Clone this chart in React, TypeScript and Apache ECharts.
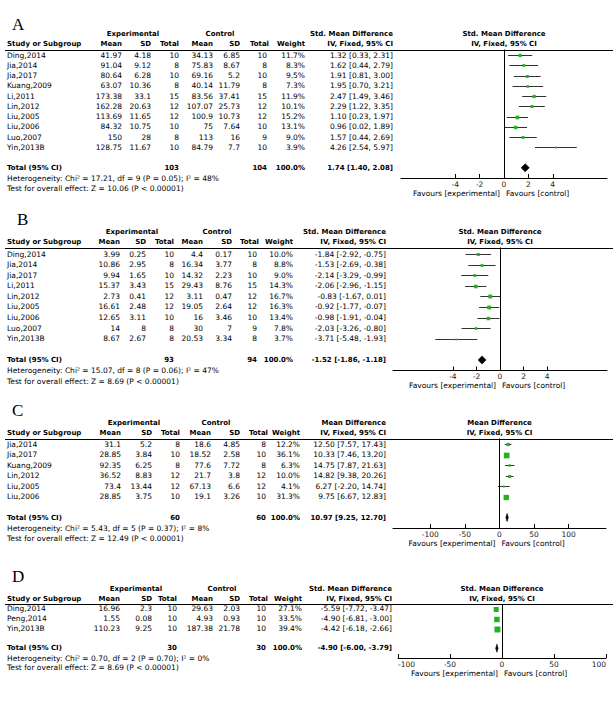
import React, { useEffect, useRef } from 'react';
import * as echarts from 'echarts';

// ---------- Panel A ----------
const A_study = ['Ding,2014', 'Jia,2014', 'Jia,2017', 'Kuang,2009', 'Li,2011', 'Lin,2012', 'Liu,2005', 'Liu,2006', 'Luo,2007', 'Yin,2013B'];
const A_expMean = [41.97, 91.04, 80.64, 63.07, 173.38, 162.28, 113.69, 84.32, 150, 128.75];
const A_expSD = [4.18, 9.12, 6.28, 10.36, 33.1, 20.63, 11.65, 10.75, 28, 11.67];
const A_expN = [10, 8, 10, 8, 15, 12, 12, 10, 8, 10];
const A_ctlMean = [34.13, 75.83, 69.16, 40.14, 83.56, 107.07, 100.9, 75, 113, 84.79];
const A_ctlSD = [6.85, 8.67, 5.2, 11.79, 37.41, 25.73, 10.73, 7.64, 16, 7.7];
const A_ctlN = [10, 8, 10, 8, 15, 12, 12, 10, 9, 10];
const A_weight = [11.7, 8.3, 9.5, 7.3, 11.9, 10.1, 15.2, 13.1, 9.0, 3.9];
const A_est = [1.32, 1.62, 1.91, 1.95, 2.47, 2.29, 1.10, 0.96, 1.57, 4.26];
const A_lo = [0.33, 0.44, 0.81, 0.70, 1.49, 1.22, 0.23, 0.02, 0.44, 2.54];
const A_hi = [2.31, 2.79, 3.00, 3.21, 3.46, 3.35, 1.97, 1.89, 2.69, 5.97];
const A_total = { expN: 103, ctlN: 104, est: 1.74, lo: 1.40, hi: 2.08 };
const A_het = 'Heterogeneity: Chi² = 17.21, df = 9 (P = 0.05); I² = 48%';
const A_test = 'Test for overall effect: Z = 10.06 (P < 0.00001)';
const A_ticks = [-4, -2, 0, 2, 4];

// ---------- Panel B ----------
const B_study = ['Ding,2014', 'Jia,2014', 'Jia,2017', 'Li,2011', 'Lin,2012', 'Liu,2005', 'Liu,2006', 'Luo,2007', 'Yin,2013B'];
const B_expMean = [3.99, 10.86, 9.94, 15.37, 2.73, 16.61, 12.65, 14, 8.67];
const B_expSD = [0.25, 2.95, 1.65, 3.43, 0.41, 2.48, 3.11, 8, 2.67];
const B_expN = [10, 8, 10, 15, 12, 12, 10, 8, 8];
const B_ctlMean = [4.4, 16.34, 14.32, 29.43, 3.11, 19.05, 16, 30, 20.53];
const B_ctlSD = [0.17, 3.77, 2.23, 8.76, 0.47, 2.64, 3.46, 7, 3.34];
const B_ctlN = [10, 8, 10, 15, 12, 12, 10, 9, 8];
const B_weight = [10.0, 8.8, 9.0, 14.3, 16.7, 16.3, 13.4, 7.8, 3.7];
const B_est = [-1.84, -1.53, -2.14, -2.06, -0.83, -0.92, -0.98, -2.03, -3.71];
const B_lo = [-2.92, -2.69, -3.29, -2.96, -1.67, -1.77, -1.91, -3.26, -5.48];
const B_hi = [-0.75, -0.38, -0.99, -1.15, 0.01, -0.07, -0.04, -0.80, -1.93];
const B_total = { expN: 93, ctlN: 94, est: -1.52, lo: -1.86, hi: -1.18 };
const B_het = 'Heterogeneity: Chi² = 15.07, df = 8 (P = 0.06); I² = 47%';
const B_test = 'Test for overall effect: Z = 8.69 (P < 0.00001)';
const B_ticks = [-4, -2, 0, 2, 4];

// ---------- Panel C ----------
const C_study = ['Jia,2014', 'Jia,2017', 'Kuang,2009', 'Lin,2012', 'Liu,2005', 'Liu,2006'];
const C_expMean = [31.1, 28.85, 92.35, 36.52, 73.4, 28.85];
const C_expSD = [5.2, 3.84, 6.25, 8.83, 13.44, 3.75];
const C_expN = [8, 10, 8, 12, 12, 10];
const C_ctlMean = [18.6, 18.52, 77.6, 21.7, 67.13, 19.1];
const C_ctlSD = [4.85, 2.58, 7.72, 3.8, 6.6, 3.26];
const C_ctlN = [8, 10, 8, 12, 12, 10];
const C_weight = [12.2, 36.1, 6.3, 10.0, 4.1, 31.3];
const C_est = [12.50, 10.33, 14.75, 14.82, 6.27, 9.75];
const C_lo = [7.57, 7.46, 7.87, 9.38, -2.20, 6.67];
const C_hi = [17.43, 13.20, 21.63, 20.26, 14.74, 12.83];
const C_total = { expN: 60, ctlN: 60, est: 10.97, lo: 9.25, hi: 12.70 };
const C_het = 'Heterogeneity: Chi² = 5.43, df = 5 (P = 0.37); I² = 8%';
const C_test = 'Test for overall effect: Z = 12.49 (P < 0.00001)';
const C_ticks = [-100, -50, 0, 50, 100];

// ---------- Panel D ----------
const D_study = ['Ding,2014', 'Peng,2014', 'Yin,2013B'];
const D_expMean = [16.96, 1.55, 110.23];
const D_expSD = [2.3, 0.08, 9.25];
const D_expN = [10, 10, 10];
const D_ctlMean = [29.63, 4.93, 187.38];
const D_ctlSD = [2.03, 0.93, 21.78];
const D_ctlN = [10, 10, 10];
const D_weight = [27.1, 33.5, 39.4];
const D_est = [-5.59, -4.90, -4.42];
const D_lo = [-7.72, -6.81, -6.18];
const D_hi = [-3.47, -3.00, -2.66];
const D_total = { expN: 30, ctlN: 30, est: -4.90, lo: -6.00, hi: -3.79 };
const D_het = 'Heterogeneity: Chi² = 0.70, df = 2 (P = 0.70); I² = 0%';
const D_test = 'Test for overall effect: Z = 8.69 (P < 0.00001)';
const D_ticks = [-100, -50, 0, 50, 100];

const PANELS = [
  { letter: 'A', effect: 'Std. Mean Difference', study: A_study, expMean: A_expMean, expSD: A_expSD, expN: A_expN, ctlMean: A_ctlMean, ctlSD: A_ctlSD, ctlN: A_ctlN, weight: A_weight, est: A_est, lo: A_lo, hi: A_hi, total: A_total, het: A_het, test: A_test, ticks: A_ticks },
  { letter: 'B', effect: 'Std. Mean Difference', study: B_study, expMean: B_expMean, expSD: B_expSD, expN: B_expN, ctlMean: B_ctlMean, ctlSD: B_ctlSD, ctlN: B_ctlN, weight: B_weight, est: B_est, lo: B_lo, hi: B_hi, total: B_total, het: B_het, test: B_test, ticks: B_ticks },
  { letter: 'C', effect: 'Mean Difference', study: C_study, expMean: C_expMean, expSD: C_expSD, expN: C_expN, ctlMean: C_ctlMean, ctlSD: C_ctlSD, ctlN: C_ctlN, weight: C_weight, est: C_est, lo: C_lo, hi: C_hi, total: C_total, het: C_het, test: C_test, ticks: C_ticks },
  { letter: 'D', effect: 'Std. Mean Difference', study: D_study, expMean: D_expMean, expSD: D_expSD, expN: D_expN, ctlMean: D_ctlMean, ctlSD: D_ctlSD, ctlN: D_ctlN, weight: D_weight, est: D_est, lo: D_lo, hi: D_hi, total: D_total, het: D_het, test: D_test, ticks: D_ticks },
];

// ---------- Layout (positions only) ----------
const LAYOUT = [
  { letterX: 12, letterY: 24, ruleY: 49.5, axisY: 178, yMin: -0.55, gridL: 401, gridR: 607, xMax: 8.45, alignEnds: false,
    c: { study: 7, expMean: 122, expSD: 151, expN: 179, ctlMean: 213, ctlSD: 240, ctlN: 267, weight: 305, effect: 393 }, expC: 133, ctlC: 220 },
  { letterX: 17, letterY: 219, ruleY: 247.5, axisY: 370.5, yMin: -0.62, gridL: 393, gridR: 607, xMax: 9.07, alignEnds: false,
    c: { study: 7, expMean: 120, expSD: 146, expN: 174, ctlMean: 203, ctlSD: 232, ctlN: 257, weight: 293, effect: 386 }, expC: 132, ctlC: 217 },
  { letterX: 12, letterY: 410, ruleY: 438.5, axisY: 528, yMin: -0.55, gridL: 393, gridR: 606, xMax: 154, alignEnds: false,
    c: { study: 7, expMean: 121, expSD: 152, expN: 180, ctlMean: 211, ctlSD: 240, ctlN: 266, weight: 300, effect: 386 }, expC: 134, ctlC: 216 },
  { letterX: 12, letterY: 576, ruleY: 604, axisY: 658, yMin: -0.5, gridL: 398, gridR: 606, xMax: 100, alignEnds: true,
    c: { study: 7, expMean: 120, expSD: 152, expN: 177, ctlMean: 213, ctlSD: 240, ctlN: 266, weight: 302, effect: 392 }, expC: 136, ctlC: 222 },
];

const FONT = 'DejaVu Sans';
const TXT = '#000';
const GREEN = '#22b322';

const fmtCI = (e: number, l: number, h: number) => `${e.toFixed(2)} [${l.toFixed(2)}, ${h.toFixed(2)}]`;

function txt(text: string, x: number, y: number, align: string, bold = false, size?: number, family?: string) {
  return {
    type: 'text',
    x,
    y,
    silent: true,
    style: {
      text,
      align,
      verticalAlign: 'middle',
      fontSize: size ?? (bold ? 7 : 7.5),
      fontWeight: bold ? 'bold' : 'normal',
      fontFamily: family ?? FONT,
      fill: TXT,
    },
  };
}

function renderStudy(params: any, api: any) {
  const y = api.value(1);
  const p = api.coord([api.value(0), y]);
  const l = api.coord([api.value(2), y]);
  const h = api.coord([api.value(3), y]);
  const s = 0.95 * Math.sqrt(api.value(4));
  const yy = Math.round(p[1]) + 0.5;
  return {
    type: 'group',
    children: [
      { type: 'line', shape: { x1: l[0], y1: yy, x2: h[0], y2: yy }, style: { stroke: '#333', lineWidth: 1 } },
      { type: 'rect', shape: { x: p[0] - s / 2, y: yy - s / 2, width: s, height: s }, style: { fill: GREEN } },
    ],
  };
}

function renderDiamond(params: any, api: any) {
  const y = api.value(1);
  const p = api.coord([api.value(0), y]);
  const l = api.coord([api.value(2), y]);
  const h = api.coord([api.value(3), y]);
  const hh = 4;
  return {
    type: 'polygon',
    shape: { points: [[l[0], p[1]], [p[0], p[1] - hh], [h[0], p[1]], [p[0], p[1] + hh]] },
    style: { fill: '#000', stroke: '#000', lineWidth: 0.6 },
  };
}

function buildOption() {
  const grid: any[] = [];
  const xAxis: any[] = [];
  const yAxis: any[] = [];
  const series: any[] = [];
  const graphic: any[] = [];

  PANELS.forEach((p, k) => {
    const L = LAYOUT[k];
    const n = p.study.length;
    const totalIdx = n + 1;
    const yMax = n + 2;
    const step = (L.axisY - L.ruleY) / (yMax - L.yMin);
    const rowY = (i: number) => L.ruleY + (i - L.yMin) * step;
    const zeroX = L.gridL + (L.gridR - L.gridL) / 2;

    grid.push({ left: L.gridL, top: L.ruleY, width: L.gridR - L.gridL, height: L.axisY - L.ruleY });
    xAxis.push({
      gridIndex: k,
      type: 'value',
      min: -L.xMax,
      max: L.xMax,
      position: 'bottom',
      splitLine: { show: false },
      axisLine: { show: true, onZero: false, lineStyle: { color: '#000', width: 1 } },
      axisTick: { show: true, inside: true, length: 4, customValues: p.ticks, lineStyle: { color: '#000' } },
      axisLabel: {
        show: true,
        customValues: p.ticks,
        fontSize: 7.5,
        fontFamily: FONT,
        color: '#222',
        margin: 2,
        alignMinLabel: L.alignEnds ? 'left' : 'center',
        alignMaxLabel: L.alignEnds ? 'right' : 'center',
      },
    });
    yAxis.push({ gridIndex: k, type: 'value', inverse: true, min: L.yMin, max: yMax, show: false });

    series.push({
      type: 'custom',
      xAxisIndex: k,
      yAxisIndex: k,
      clip: false,
      renderItem: renderStudy,
      data: p.est.map((e, i) => [e, i, p.lo[i], p.hi[i], p.weight[i]]),
      markLine: {
        silent: true,
        symbol: 'none',
        label: { show: false },
        lineStyle: { color: '#000', width: 1, type: 'solid' },
        data: [{ xAxis: 0 }],
      },
      z: 3,
    });
    series.push({
      type: 'custom',
      xAxisIndex: k,
      yAxisIndex: k,
      clip: false,
      renderItem: renderDiamond,
      data: [[p.total.est, totalIdx, p.total.lo, p.total.hi]],
      z: 4,
    });

    // panel letter
    graphic.push(txt(p.letter, L.letterX, L.letterY, 'left', false, 17, "'Liberation Serif', 'DejaVu Serif', serif"));

    // headers
    const h1 = L.ruleY - 15.5;
    const h2 = L.ruleY - 5.5;
    graphic.push(txt('Experimental', L.expC, h1, 'center', true));
    graphic.push(txt('Control', L.ctlC, h1, 'center', true));
    graphic.push(txt(p.effect, L.c.effect, h1, 'right', true));
    graphic.push(txt(p.effect, zeroX, h1, 'center', true));
    graphic.push(txt('Study or Subgroup', L.c.study, h2, 'left', true));
    graphic.push(txt('Mean', L.c.expMean, h2, 'right', true));
    graphic.push(txt('SD', L.c.expSD, h2, 'right', true));
    graphic.push(txt('Total', L.c.expN, h2, 'right', true));
    graphic.push(txt('Mean', L.c.ctlMean, h2, 'right', true));
    graphic.push(txt('SD', L.c.ctlSD, h2, 'right', true));
    graphic.push(txt('Total', L.c.ctlN + 2, h2, 'right', true));
    graphic.push(txt('Weight', L.c.weight, h2, 'right', true));
    graphic.push(txt('IV, Fixed, 95% CI', L.c.effect, h2, 'right', true));
    graphic.push(txt('IV, Fixed, 95% CI', zeroX, h2, 'center', true));

    // rule
    graphic.push({ type: 'line', silent: true, shape: { x1: 5, y1: Math.round(L.ruleY) + 0.5, x2: 613, y2: Math.round(L.ruleY) + 0.5 }, style: { stroke: '#000', lineWidth: 1 } });

    // study rows
    p.study.forEach((s, i) => {
      const y = rowY(i);
      graphic.push(txt(s, L.c.study, y, 'left'));
      graphic.push(txt(String(p.expMean[i]), L.c.expMean, y, 'right'));
      graphic.push(txt(String(p.expSD[i]), L.c.expSD, y, 'right'));
      graphic.push(txt(String(p.expN[i]), L.c.expN, y, 'right'));
      graphic.push(txt(String(p.ctlMean[i]), L.c.ctlMean, y, 'right'));
      graphic.push(txt(String(p.ctlSD[i]), L.c.ctlSD, y, 'right'));
      graphic.push(txt(String(p.ctlN[i]), L.c.ctlN, y, 'right'));
      graphic.push(txt(p.weight[i].toFixed(1) + '%', L.c.weight, y, 'right'));
      graphic.push(txt(fmtCI(p.est[i], p.lo[i], p.hi[i]), L.c.effect, y, 'right'));
    });

    // total row
    const ty = rowY(totalIdx);
    graphic.push(txt('Total (95% CI)', L.c.study, ty, 'left', true));
    graphic.push(txt(String(p.total.expN), L.c.expN, ty, 'right', true));
    graphic.push(txt(String(p.total.ctlN), L.c.ctlN, ty, 'right', true));
    graphic.push(txt('100.0%', L.c.weight, ty, 'right', true));
    graphic.push(txt(fmtCI(p.total.est, p.total.lo, p.total.hi), L.c.effect, ty, 'right', true));
    graphic.push(txt(p.het, L.c.study, ty + step, 'left'));
    graphic.push(txt(p.test, L.c.study, ty + 2 * step, 'left'));

    // favours
    graphic.push(txt('Favours [experimental]', zeroX - 4, L.axisY + 15, 'right'));
    graphic.push(txt('Favours [control]', zeroX + 2, L.axisY + 15, 'left'));
  });

  return {
    animation: false,
    backgroundColor: '#fff',
    grid,
    xAxis,
    yAxis,
    series,
    graphic: { elements: graphic },
  };
}

export default function App() {
  const ref = useRef<HTMLDivElement>(null);
  useEffect(() => {
    if (!ref.current) return;
    const chart = echarts.init(ref.current, null, { renderer: 'svg' });
    chart.setOption(buildOption() as any);
    return () => chart.dispose();
  }, []);
  return <div ref={ref} style={{ position: 'absolute', left: 0, top: 0, width: 613, height: 728, background: '#fff' }} />;
}
